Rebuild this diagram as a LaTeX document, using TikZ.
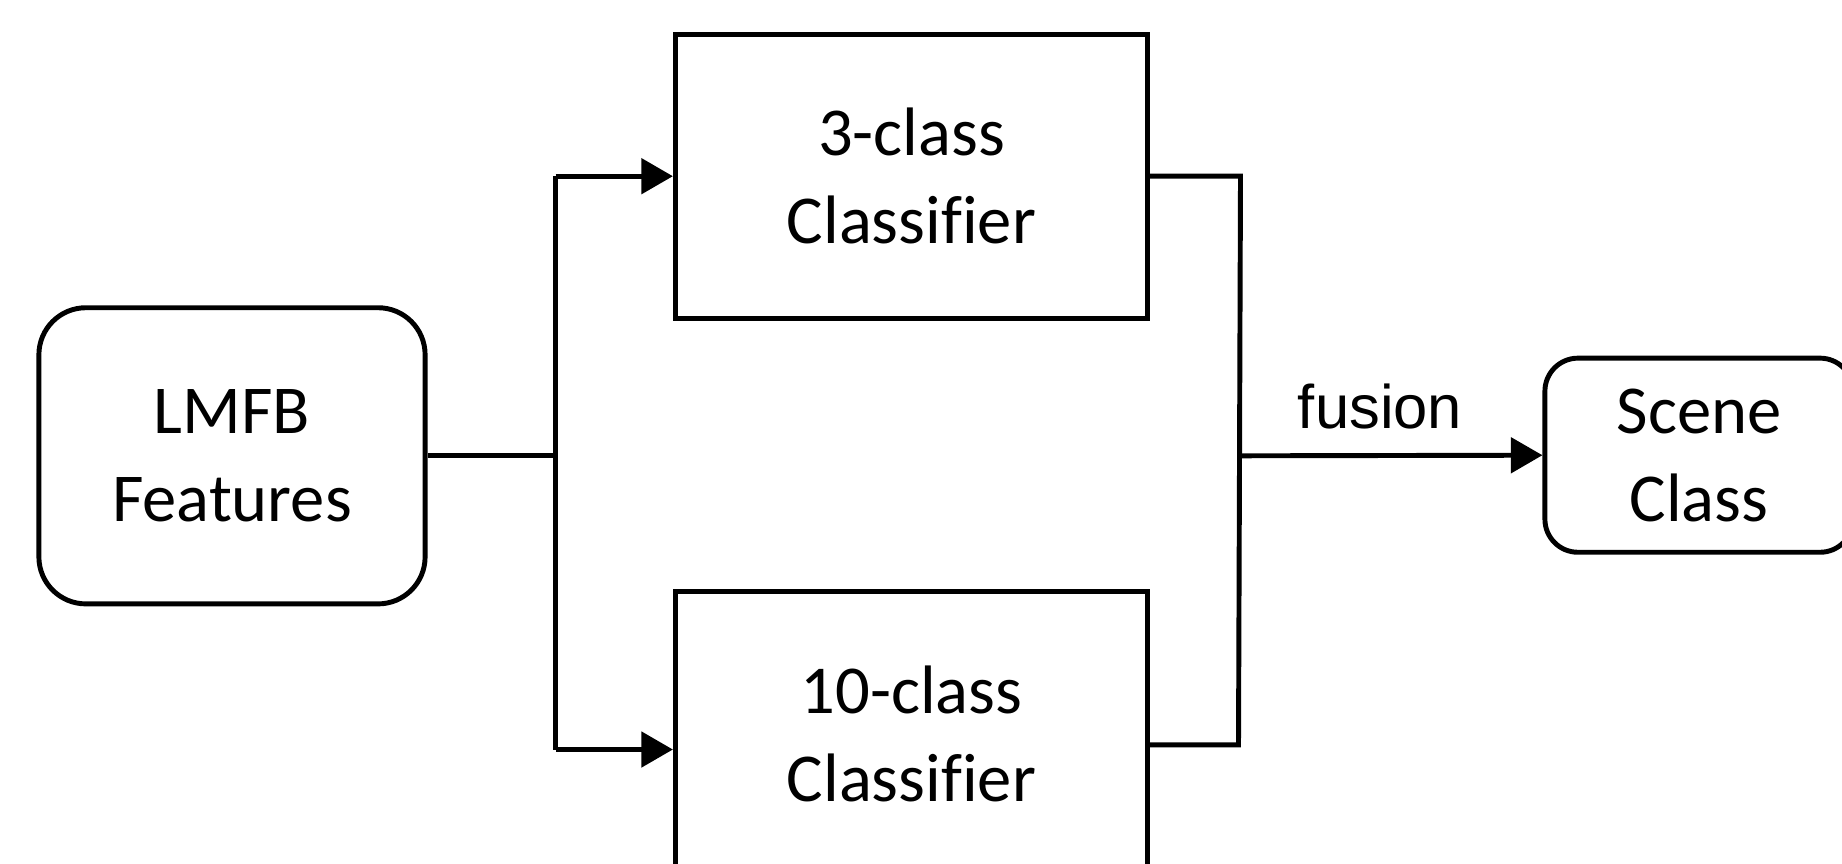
\documentclass[tikz,border=0pt]{standalone}
\usepackage{fontspec}
\setmainfont[Ligatures=NoCommon]{Carlito}
\newfontfamily\labelfont{Liberation Sans}
\usetikzlibrary{arrows.meta}
\begin{document}
\begin{tikzpicture}[x=0.01cm,y=-0.01cm,
  line width=1.4pt,
  blk/.style={draw,rectangle,align=center,font=\fontsize{19.5}{25}\selectfont,inner sep=0pt},
  rblk/.style={blk,rounded corners=#1},
  arr/.style={-{Triangle[length=9pt,width=10pt]}}]
\useasboundingbox (0,0) rectangle (1842,863);
\clip (0,0) rectangle (1842,863);
% blocks
\node[rblk=0.47cm,minimum width=3.86cm,minimum height=2.96cm] (lmfb) at (232,455.8) {LMFB\\Features};
\node[blk,minimum width=4.72cm,minimum height=2.84cm] (top) at (911.5,176.2) {3-class\\Classifier};
\node[blk,minimum width=4.72cm,minimum height=2.84cm] (bot) at (911.5,734) {10-class\\Classifier};
\node[rblk=0.33cm,minimum width=3.08cm,minimum height=1.94cm] (scene) at (1699,455.2) {Scene\\Class};
% split point and fusion junctions
\coordinate (sp) at (555.6,455.8);
\coordinate (jl1) at (555.6,176.2);
\coordinate (jl2) at (555.6,749.5);
\coordinate (jr1) at (1240.5,176.2);
\coordinate (jr2) at (1238.5,744.8);
\coordinate (jm) at (1239.5,455.8);
% connectors
\draw (lmfb.east) -- (sp);
\draw (jl1) -- (jl2);
\draw[arr] (jl1) -- (top.west);
\draw[arr] (jl2) -- (jl2 -| bot.west);
\draw (top.east) -- (jr1) -- (jr2) -- (jr2 -| bot.east);
\draw[arr] (jm) -- (scene.west);
\node[font=\labelfont\fontsize{17.5}{21}\selectfont,inner sep=0pt] (fusion) at (1380,406) {fusion};
\end{tikzpicture}
\end{document}
